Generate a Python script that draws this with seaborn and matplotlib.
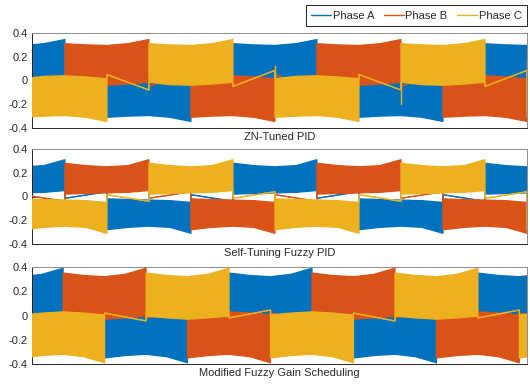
import matplotlib
matplotlib.use('Agg')
import matplotlib.pyplot as plt
import seaborn as sns
from matplotlib.lines import Line2D

# ---------------- data ----------------
phases = ['Phase A', 'Phase B', 'Phase C']
colors = ['#0072BD', '#D95319', '#EDB120']
# sector index (mod 6) at which each phase starts its positive 120-deg conduction block
phase_offset = [4, 0, 2]
titles = ['ZN-Tuned PID', 'Self-Tuning Fuzzy PID', 'Modified Fuzzy Gain Scheduling']
sectors = list(range(-3, 12))          # 60-deg commutation sectors
ytick_vals = [-0.4, -0.2, 0, 0.2, 0.4]
ytick_labels = ['-0.4', '-0.2', '0', '0.2', '0.4']

# envelope of a conduction block read at 0, 30, 60, 90, 120 deg into the block
zn_outer = [0.31, 0.30, 0.295, 0.31, 0.345]
zn_inner = [-0.015, -0.035, -0.04, -0.03, -0.015]
zn_ramp_pos = [-0.05, 0.085]     # floating phase after positive block
zn_ramp_neg = [0.05, -0.08]      # floating phase after negative block
zn_spikes = [(5, 0.12), (8, -0.20), (11, 0.17)]   # phase C commutation spikes
zn_xlim = [-47, 660]

st_outer = [0.28, 0.26, 0.25, 0.26, 0.31]
st_inner = [0.02, 0.025, 0.03, 0.035, 0.05]
st_ramp_pos = [-0.015, 0.04]
st_ramp_neg = [0.015, -0.04]
st_spikes = []
st_xlim = [-47, 660]

mf_outer = [0.35, 0.33, 0.32, 0.34, 0.39]
mf_inner = [-0.005, -0.02, -0.03, -0.02, -0.005]
mf_ramp_pos = [-0.02, 0.045]
mf_ramp_neg = [0.02, -0.045]
mf_spikes = []
mf_xlim = [-45, 671]

panels = [
    (zn_outer, zn_inner, zn_ramp_pos, zn_ramp_neg, zn_spikes, zn_xlim),
    (st_outer, st_inner, st_ramp_pos, st_ramp_neg, st_spikes, st_xlim),
    (mf_outer, mf_inner, mf_ramp_pos, mf_ramp_neg, mf_spikes, mf_xlim),
]


def phase_envelope(offset, outer, inner, r_pos, r_neg):
    t, lo, hi = [], [], []
    for k in sectors:
        s = (k - offset) % 6
        t0 = 60 * k
        if s in (0, 1, 3, 4):
            idx = [0, 1, 2] if s in (0, 3) else [2, 3, 4]
            for j, i in enumerate(idx):
                t.append(t0 + 30 * j)
                if s in (0, 1):
                    lo.append(inner[i]); hi.append(outer[i])
                else:
                    lo.append(-outer[i]); hi.append(-inner[i])
        else:
            r = r_pos if s == 2 else r_neg
            t += [t0, t0 + 60]
            lo += list(r); hi += list(r)
    return t, lo, hi


sns.set_style('white')
plt.rcParams['font.family'] = ['Liberation Sans', 'DejaVu Sans']
plt.rcParams['font.size'] = 8

W, H = 530, 386
fig = plt.figure(figsize=(W / 100, H / 100), dpi=100)
axes_px = [(33, 128), (149, 244), (267, 364)]

for p, (outer, inner, r_pos, r_neg, spikes, xlim) in enumerate(panels):
    top, bot = axes_px[p]
    ax = fig.add_axes([32 / W, 1 - bot / H, (527 - 32) / W, (bot - top) / H])
    for ph in range(3):
        t, lo, hi = phase_envelope(phase_offset[ph], outer, inner, r_pos, r_neg)
        z = 2 + ph
        ax.fill_between(t, lo, hi, color=colors[ph], lw=0, zorder=z)
        sns.lineplot(x=t, y=hi, ax=ax, color=colors[ph], lw=0.9,
                     estimator=None, sort=False, zorder=z)
        sns.lineplot(x=t, y=lo, ax=ax, color=colors[ph], lw=0.9,
                     estimator=None, sort=False, zorder=z)
    for edge, v in spikes:
        sns.lineplot(x=[60 * edge, 60 * edge], y=[0, v], ax=ax, color=colors[2],
                     lw=1.0, estimator=None, sort=False, zorder=6)
    ax.set_xlim(xlim)
    ax.set_ylim(-0.4, 0.4)
    ax.set_xticks([])
    ax.set_yticks(ytick_vals)
    ax.set_yticklabels(ytick_labels)
    ax.tick_params(axis='y', direction='in', length=3, width=0.6,
                   colors='#262626', labelsize=8, pad=3, left=True)
    for sp in ['left', 'bottom']:
        ax.spines[sp].set_color('#262626')
        ax.spines[sp].set_linewidth(0.7)
    for sp in ['top', 'right']:
        ax.spines[sp].set_color('#8c8c8c')
        ax.spines[sp].set_linewidth(0.7)
    ax.set_xlabel(titles[p], fontsize=8, color='#262626', labelpad=3)
    ax.set_ylabel('')

handles = [Line2D([0], [0], color=c, lw=1.0) for c in colors]
leg = fig.legend(handles, phases, loc='upper right',
                 bbox_to_anchor=(527 / W, 1 - 5 / H), ncol=3, frameon=True,
                 fancybox=False, edgecolor='#262626', framealpha=1,
                 fontsize=8, handlelength=1.8, handletextpad=0.15,
                 columnspacing=0.85, borderpad=0.5, borderaxespad=0)
leg.get_frame().set_linewidth(0.7)

fig.savefig('out.png', dpi=100)
